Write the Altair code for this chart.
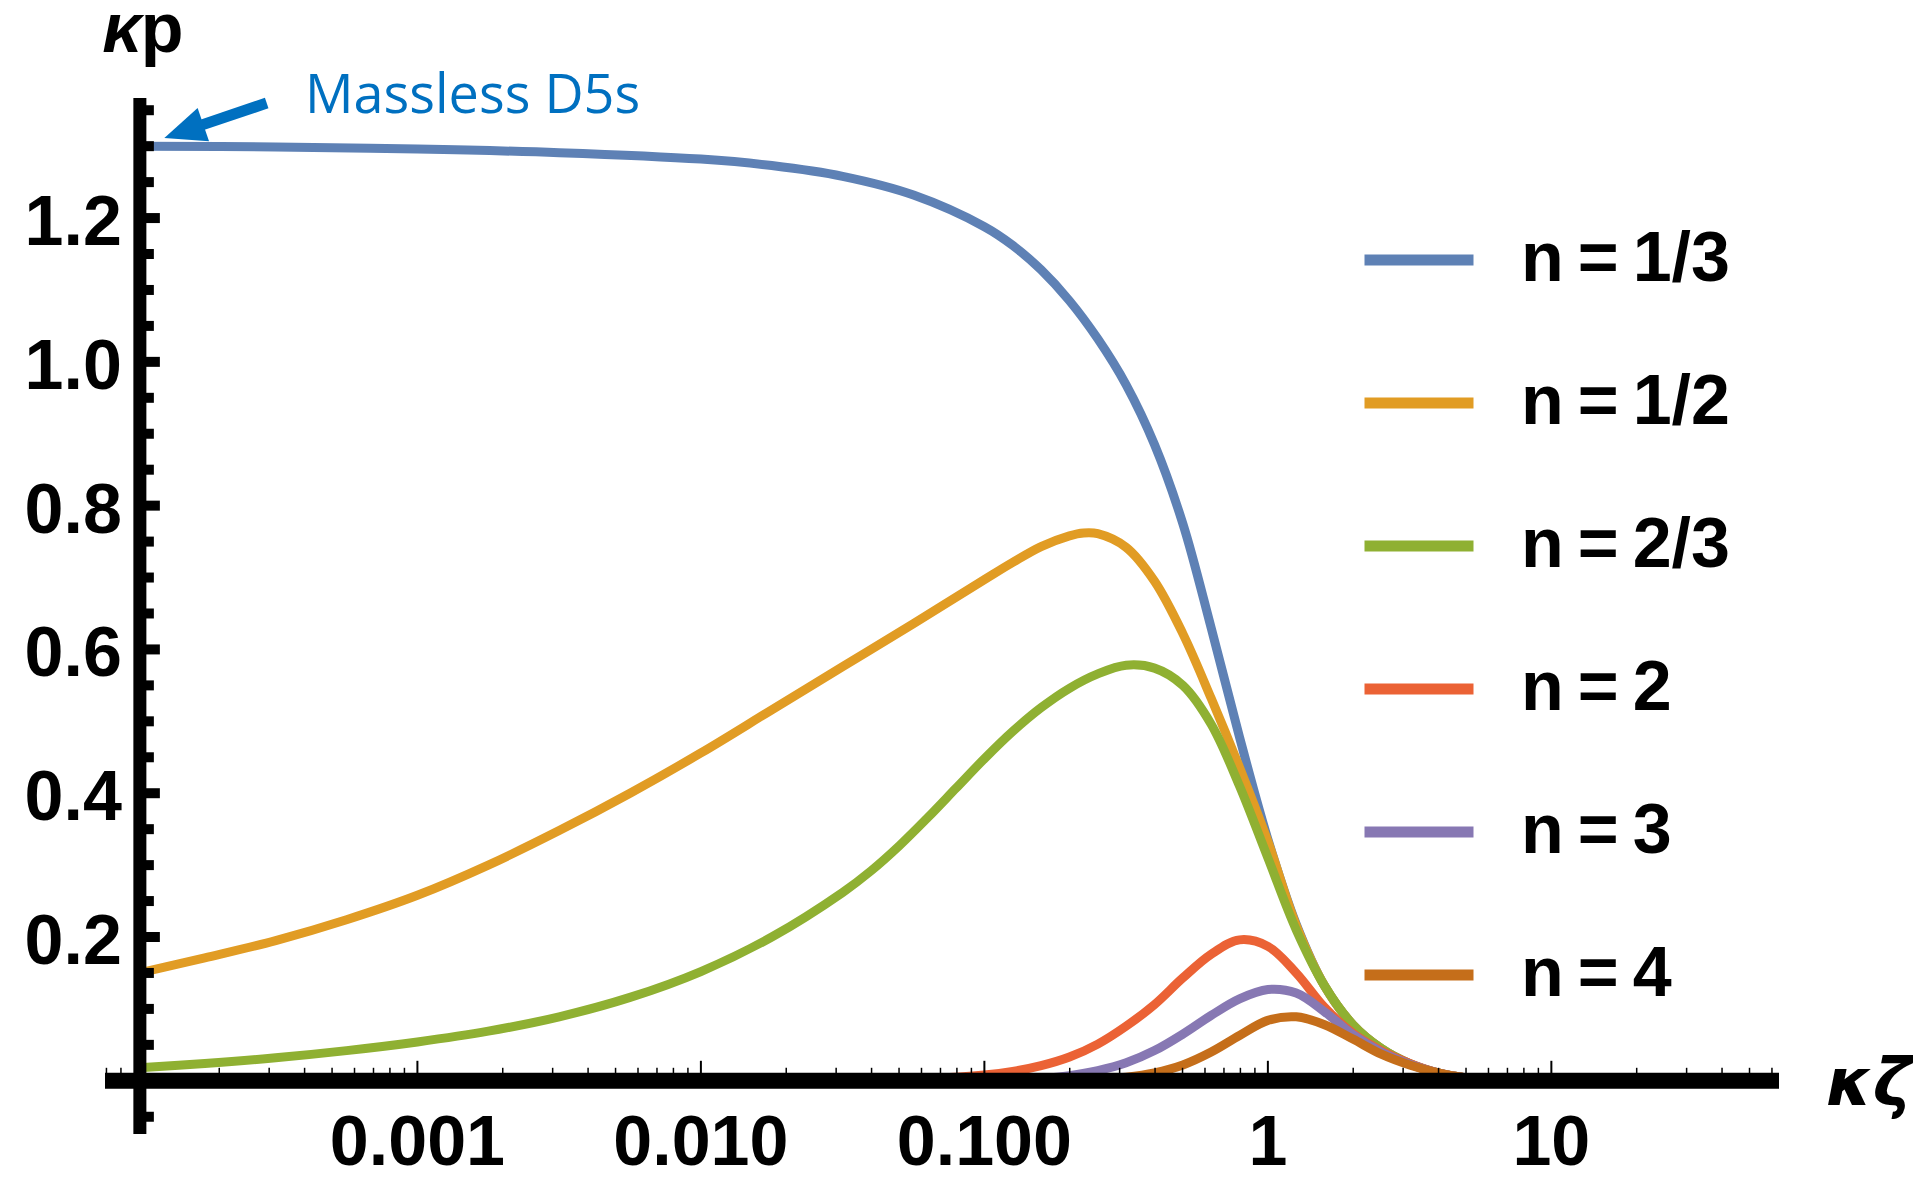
import altair as alt
import pandas as pd

# ---------------- data ----------------
SERIES = ["n=1/3", "n=1/2", "n=2/3", "n=2", "n=3", "n=4"]
COLORS = ["#5E81B5", "#E19C24", "#8FB032", "#EB6235", "#8778B3", "#C56E1A"]

# log10(κζ) sample positions and κp values
LOG_KZ_N13 = [-3.98, -3.5, -3.0, -2.5, -2.0, -1.75, -1.5, -1.25, -1.0, -0.9, -0.8, -0.7, -0.6,
              -0.5, -0.4, -0.3, -0.2, -0.1, 0.0, 0.1, 0.2, 0.3, 0.4, 0.5, 0.6, 0.7, 0.8, 0.9, 1.0]
KP_N13 = [1.300, 1.299, 1.296, 1.291, 1.282, 1.273, 1.258, 1.232, 1.188, 1.162, 1.128, 1.085,
          1.032, 0.968, 0.885, 0.775, 0.630, 0.478, 0.336, 0.218, 0.132, 0.078, 0.045, 0.024,
          0.011, 0.004, 0.0012, 0.0003, 0.0]

LOG_KZ_N12 = [-3.98, -3.75, -3.5, -3.25, -3.0, -2.75, -2.5, -2.25, -2.0, -1.75, -1.5, -1.25, -1.0,
              -0.9, -0.8, -0.7, -0.65, -0.6, -0.5, -0.4, -0.3, -0.2, -0.1, 0.0, 0.1, 0.2, 0.3,
              0.4, 0.5, 0.6, 0.7, 0.8, 0.9, 1.0]
KP_N12 = [0.150, 0.171, 0.195, 0.224, 0.258, 0.300, 0.348, 0.400, 0.456, 0.516, 0.576, 0.636,
          0.697, 0.721, 0.743, 0.758, 0.762, 0.761, 0.742, 0.695, 0.622, 0.532, 0.436, 0.333,
          0.216, 0.132, 0.078, 0.045, 0.024, 0.011, 0.004, 0.0012, 0.0003, 0.0]

LOG_KZ_N23 = [-3.98, -3.75, -3.5, -3.25, -3.0, -2.75, -2.5, -2.25, -2.0, -1.75, -1.5, -1.4, -1.3,
              -1.2, -1.1, -1.0, -0.9, -0.8, -0.7, -0.6, -0.5, -0.4, -0.3, -0.2, -0.1, 0.0, 0.1,
              0.2, 0.3, 0.4, 0.5, 0.6, 0.7, 0.8, 0.9, 1.0]
KP_N23 = [0.018, 0.024, 0.032, 0.042, 0.054, 0.069, 0.089, 0.116, 0.152, 0.200, 0.262, 0.292,
          0.327, 0.366, 0.407, 0.448, 0.486, 0.519, 0.546, 0.566, 0.578, 0.574, 0.550, 0.496,
          0.410, 0.310, 0.210, 0.132, 0.078, 0.045, 0.024, 0.011, 0.004, 0.0012, 0.0003, 0.0]

LOG_KZ_N2 = [-1.6, -1.4, -1.2, -1.0, -0.9, -0.8, -0.7, -0.6, -0.5, -0.4, -0.3, -0.2, -0.1, 0.0,
             0.1, 0.2, 0.3, 0.4, 0.5, 0.6, 0.7, 0.8, 0.9, 1.0]
KP_N2 = [0.0, 0.001, 0.003, 0.008, 0.013, 0.021, 0.033, 0.051, 0.076, 0.106, 0.143, 0.176, 0.196,
         0.187, 0.150, 0.102, 0.066, 0.042, 0.024, 0.011, 0.004, 0.0012, 0.0003, 0.0]

LOG_KZ_N3 = [-1.0, -0.9, -0.8, -0.7, -0.6, -0.5, -0.4, -0.3, -0.2, -0.1, 0.0, 0.1, 0.2, 0.3, 0.4,
             0.5, 0.6, 0.7, 0.8, 0.9, 1.0]
KP_N3 = [0.0, 0.001, 0.003, 0.007, 0.014, 0.025, 0.042, 0.065, 0.091, 0.114, 0.127, 0.122, 0.096,
         0.064, 0.040, 0.023, 0.011, 0.004, 0.0012, 0.0003, 0.0]

LOG_KZ_N4 = [-0.8, -0.7, -0.6, -0.5, -0.4, -0.3, -0.2, -0.1, 0.0, 0.1, 0.2, 0.3, 0.4, 0.5, 0.6,
             0.7, 0.8, 0.9, 1.0]
KP_N4 = [0.0, 0.001, 0.002, 0.005, 0.011, 0.022, 0.040, 0.063, 0.084, 0.089, 0.078, 0.058, 0.037,
         0.022, 0.011, 0.004, 0.0012, 0.0003, 0.0]

X_TICK_VALUES = [0.001, 0.01, 0.1, 1, 10]
X_TICK_LABELS = ["0.001", "0.010", "0.100", "1", "10"]
Y_TICK_VALUES = [0.2, 0.4, 0.6, 0.8, 1.0, 1.2]
Y_TICK_LABELS = ["0.2", "0.4", "0.6", "0.8", "1.0", "1.2"]
Y_MINOR_VALUES = [-0.05, 0.05, 0.1, 0.15, 0.25, 0.3, 0.35, 0.45, 0.5, 0.55, 0.65, 0.7, 0.75,
                  0.85, 0.9, 0.95, 1.05, 1.1, 1.15, 1.25, 1.3, 1.35]

ANNOTATION = "Massless D5s"
X_TITLE = "κζ"
Y_TITLE_K = "κ"
Y_TITLE_P = "p"

# ---------------- plot range / axes ----------------
X_LEFT = 10 ** -4.102      # left end of the horizontal axis
X_RIGHT = 10 ** 1.803      # right end of the horizontal axis
X_ORIGIN = 10 ** -3.979    # where the vertical axis crosses
Y_BOTTOM = -0.074
Y_TOP = 1.367

W, H = 1674, 1036
FONT = "Liberation Sans"
ANN_BLUE = "#0070C0"

xs = alt.Scale(type="log", domain=[X_LEFT, X_RIGHT], nice=False)
ys = alt.Scale(domain=[Y_BOTTOM, Y_TOP], nice=False, zero=False)

rows = []
for name, lx, ky in [("n=1/3", LOG_KZ_N13, KP_N13), ("n=1/2", LOG_KZ_N12, KP_N12),
                     ("n=2/3", LOG_KZ_N23, KP_N23), ("n=2", LOG_KZ_N2, KP_N2),
                     ("n=3", LOG_KZ_N3, KP_N3), ("n=4", LOG_KZ_N4, KP_N4)]:
    for a, b in zip(lx, ky):
        rows.append({"n": name, "kz": 10 ** a, "kp": b})
curves_df = pd.DataFrame(rows)

curves = alt.Chart(curves_df).mark_line(
    strokeWidth=9, interpolate="catmull-rom", strokeCap="round", strokeJoin="round"
).encode(
    x=alt.X("kz:Q", scale=xs, axis=None),
    y=alt.Y("kp:Q", scale=ys, axis=None),
    color=alt.Color(
        "n:N",
        scale=alt.Scale(domain=SERIES, range=COLORS),
        sort=SERIES,
        legend=alt.Legend(
            orient="none", legendX=1254, legendY=102, title=None,
            symbolType="stroke", symbolSize=11881, symbolStrokeWidth=11,
            symbolOpacity=1, labelFont=FONT, labelFontWeight="bold",
            labelFontSize=70, labelColor="black", labelOffset=42,
            rowPadding=48, padding=0, labelLimit=0,
            labelExpr="replace(datum.label, '=', '\u2009=\u2009')",
        ),
    ),
    order=alt.Order("kz:Q"),
)

# horizontal axis
xaxis_df = pd.DataFrame({"a": [X_LEFT], "b": [X_RIGHT], "y": [0.0]})
xaxis = alt.Chart(xaxis_df).mark_rule(strokeWidth=16, color="black").encode(
    x=alt.X("a:Q", scale=xs, axis=None), x2="b:Q", y=alt.Y("y:Q", scale=ys, axis=None))

minor_x = [m * 10 ** k for k in range(-5, 2) for m in range(2, 10)
           if X_LEFT <= m * 10 ** k <= X_RIGHT]
xminor_df = pd.DataFrame({"x": minor_x, "y": 0.0})
xminor = alt.Chart(xminor_df).mark_rule(strokeWidth=1.5, color="black", y2Offset=-13).encode(
    x=alt.X("x:Q", scale=xs, axis=None), y=alt.Y("y:Q", scale=ys, axis=None), y2="y:Q")
xmajor_df = pd.DataFrame({"x": X_TICK_VALUES, "y": 0.0, "label": X_TICK_LABELS})
xmajor = alt.Chart(xmajor_df).mark_rule(strokeWidth=2, color="black", y2Offset=-20).encode(
    x=alt.X("x:Q", scale=xs, axis=None), y=alt.Y("y:Q", scale=ys, axis=None), y2="y:Q")
xlabels = alt.Chart(xmajor_df).mark_text(
    font=FONT, fontWeight="bold", fontSize=70, align="center", baseline="alphabetic",
    dy=84, color="black").encode(
    x=alt.X("x:Q", scale=xs, axis=None), y=alt.Y("y:Q", scale=ys, axis=None), text="label:N")

# vertical axis
yaxis_df = pd.DataFrame({"x": [X_ORIGIN], "a": [Y_BOTTOM], "b": [Y_TOP]})
yaxis = alt.Chart(yaxis_df).mark_rule(strokeWidth=13, color="black").encode(
    x=alt.X("x:Q", scale=xs, axis=None), y=alt.Y("a:Q", scale=ys, axis=None), y2="b:Q")
ymajor_df = pd.DataFrame({"x": X_ORIGIN, "y": Y_TICK_VALUES, "label": Y_TICK_LABELS})
ymajor = alt.Chart(ymajor_df).mark_rule(strokeWidth=10, color="black", x2Offset=20).encode(
    x=alt.X("x:Q", scale=xs, axis=None), x2="x:Q", y=alt.Y("y:Q", scale=ys, axis=None))
yminor_df = pd.DataFrame({"x": X_ORIGIN, "y": Y_MINOR_VALUES})
yminor = alt.Chart(yminor_df).mark_rule(strokeWidth=10, color="black", x2Offset=14).encode(
    x=alt.X("x:Q", scale=xs, axis=None), x2="x:Q", y=alt.Y("y:Q", scale=ys, axis=None))
ylabels = alt.Chart(ymajor_df).mark_text(
    font=FONT, fontWeight="bold", fontSize=70, align="right", baseline="alphabetic",
    dx=-18, dy=27, color="black").encode(
    x=alt.X("x:Q", scale=xs, axis=None), y=alt.Y("y:Q", scale=ys, axis=None), text="label:N")

# axis titles
xtitle_df = pd.DataFrame({"x": [X_RIGHT], "y": [0.0], "t": [X_TITLE]})
xtitle = alt.Chart(xtitle_df).mark_text(
    font="DejaVu Sans", fontWeight="bold", fontStyle="italic", fontSize=66, align="left",
    baseline="alphabetic", dx=47, dy=24, color="black").encode(
    x=alt.X("x:Q", scale=xs, axis=None), y=alt.Y("y:Q", scale=ys, axis=None), text="t:N")
ytk_df = pd.DataFrame({"x": [X_ORIGIN], "y": [Y_TOP], "t": [Y_TITLE_K]})
ytitle_k = alt.Chart(ytk_df).mark_text(
    font=FONT, fontWeight="bold", fontStyle="italic", fontSize=70, align="right",
    baseline="alphabetic", dx=2, dy=-46, color="black").encode(
    x=alt.X("x:Q", scale=xs, axis=None), y=alt.Y("y:Q", scale=ys, axis=None), text="t:N")
ytp_df = pd.DataFrame({"x": [X_ORIGIN], "y": [Y_TOP], "t": [Y_TITLE_P]})
ytitle_p = alt.Chart(ytp_df).mark_text(
    font=FONT, fontWeight="bold", fontSize=70, align="left",
    baseline="alphabetic", dx=1, dy=-46, color="black").encode(
    x=alt.X("x:Q", scale=xs, axis=None), y=alt.Y("y:Q", scale=ys, axis=None), text="t:N")

# annotation
ann_df = pd.DataFrame({"x": [4.01e-4], "y": [1.346], "t": [ANNOTATION]})
ann = alt.Chart(ann_df).mark_text(
    font="Open Sans", fontSize=54, align="left", baseline="alphabetic", color=ANN_BLUE).encode(
    x=alt.X("x:Q", scale=xs, axis=None), y=alt.Y("y:Q", scale=ys, axis=None), text="t:N")
shaft_df = pd.DataFrame({"x": [2.94e-4], "x2": [1.58e-4], "y": [1.360], "y2": [1.324]})
shaft = alt.Chart(shaft_df).mark_rule(strokeWidth=11, color=ANN_BLUE).encode(
    x=alt.X("x:Q", scale=xs, axis=None), x2="x2:Q",
    y=alt.Y("y:Q", scale=ys, axis=None), y2="y2:Q")
head_df = pd.DataFrame({"x": [1.50e-4], "y": [1.3206]})
head = alt.Chart(head_df).mark_point(
    shape="M1,0L-1,-0.85L-1,0.85Z", size=1700, angle=161, filled=True, opacity=1,
    color=ANN_BLUE, strokeWidth=0).encode(
    x=alt.X("x:Q", scale=xs, axis=None), y=alt.Y("y:Q", scale=ys, axis=None))

chart = alt.layer(
    curves, xminor, xmajor, xaxis, yminor, ymajor, yaxis, xlabels, ylabels,
    xtitle, ytitle_k, ytitle_p, ann, shaft, head
).properties(
    width=W, height=H,
    autosize=alt.AutoSizeParams(type="none"),
    padding={"left": 97, "top": 90, "right": 134, "bottom": 48},
    background="white",
).configure_view(stroke=None)

chart.save("out.html", embed_options={"renderer": "svg", "actions": False})
